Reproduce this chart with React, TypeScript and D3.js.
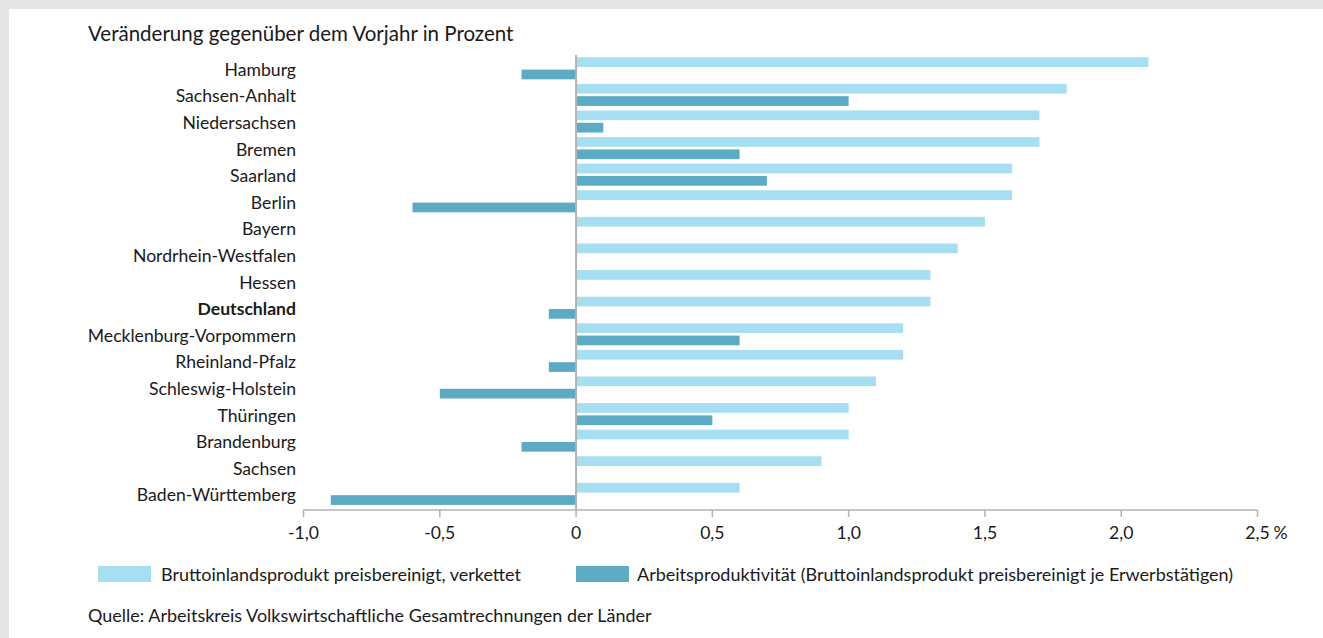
import React from "react";
import * as d3 from "d3";

const regions = [
  "Hamburg",
  "Sachsen-Anhalt",
  "Niedersachsen",
  "Bremen",
  "Saarland",
  "Berlin",
  "Bayern",
  "Nordrhein-Westfalen",
  "Hessen",
  "Deutschland",
  "Mecklenburg-Vorpommern",
  "Rheinland-Pfalz",
  "Schleswig-Holstein",
  "Thüringen",
  "Brandenburg",
  "Sachsen",
  "Baden-Württemberg",
];

const bip = [2.1, 1.8, 1.7, 1.7, 1.6, 1.6, 1.5, 1.4, 1.3, 1.3, 1.2, 1.2, 1.1, 1.0, 1.0, 0.9, 0.6];
const produktivitaet = [-0.2, 1.0, 0.1, 0.6, 0.7, -0.6, 0, 0, 0, -0.1, 0.6, -0.1, -0.5, 0.5, -0.2, 0, -0.9];

const seriesNames = [
  "Bruttoinlandsprodukt preisbereinigt, verkettet",
  "Arbeitsproduktivität (Bruttoinlandsprodukt preisbereinigt je Erwerbstätigen)",
];
const seriesKeys = ["bip", "prod"];
const colors = ["#a6dff1", "#5cabc5"];

const xTicks = [-1, -0.5, 0, 0.5, 1, 1.5, 2, 2.5];
const xTickLabels = ["-1,0", "-0,5", "0", "0,5", "1,0", "1,5", "2,0", "2,5"];

const title = "Veränderung gegenüber dem Vorjahr in Prozent";
const source = "Quelle: Arbeitskreis Volkswirtschaftliche Gesamtrechnungen der Länder";
const boldRegion = "Deutschland";

const W = 1323;
const H = 638;
const FONT = "Lato, 'Open Sans', sans-serif";
const TXT = "#1a1a1a";

export default function App() {
  const x = d3.scaleLinear().domain([-1, 2.5]).range([303.5, 1257.5]);
  const y = d3.scaleBand<string>().domain(regions).range([55, 507.2]);
  const sub = d3
    .scaleBand<string>()
    .domain(seriesKeys)
    .range([0, y.bandwidth()])
    .paddingInner(0.21)
    .paddingOuter(0.186);
  const axisY = 510;
  const values = [bip, produktivitaet];

  return (
    <div style={{ position: "fixed", left: 0, top: 0 }}>
      <svg width={W} height={H} style={{ display: "block" }} fontFamily={FONT}>
        <rect x={0} y={0} width={W} height={H} fill="#e5e5e5" />
        <rect x={9} y={9} width={W - 9} height={H - 9} fill="#ffffff" />
        <text x={88} y={41} fontSize={20.5} fill={TXT}>
          {title}
        </text>

        {regions.map((r, i) => (
          <g key={r}>
            {values.map((vals, s) => {
              const v = vals[i];
              if (v === 0) return null;
              return (
                <rect
                  key={s}
                  x={x(Math.min(0, v))}
                  y={(y(r) as number) + (sub(seriesKeys[s]) as number)}
                  width={Math.abs(x(v) - x(0))}
                  height={sub.bandwidth()}
                  fill={colors[s]}
                />
              );
            })}
            <text
              x={296}
              y={(y(r) as number) + y.bandwidth() / 2 + 7.5}
              textAnchor="end"
              fontSize={17.6}
              fontWeight={r === boldRegion ? 700 : 400}
              fill={TXT}
            >
              {r}
            </text>
          </g>
        ))}

        <line x1={x(0)} x2={x(0)} y1={55} y2={axisY} stroke="#b3b3b3" strokeWidth={2} />
        <line x1={x(-1)} x2={x(2.5)} y1={axisY} y2={axisY} stroke="#b3b3b3" strokeWidth={1.5} />
        {xTicks.map((t, i) => (
          <g key={t}>
            <line x1={x(t)} x2={x(t)} y1={axisY} y2={axisY + 7} stroke="#b3b3b3" strokeWidth={1.5} />
            <text x={x(t)} y={539} textAnchor="middle" fontSize={17.6} fill={TXT}>
              {xTickLabels[i]}
            </text>
          </g>
        ))}
        <text x={x(2.5) + 16} y={539} fontSize={17.6} fill={TXT}>
          %
        </text>

        <rect x={98} y={566} width={53} height={16} fill={colors[0]} />
        <text x={161} y={581} fontSize={18} fill={TXT}>
          {seriesNames[0]}
        </text>
        <rect x={576} y={566} width={53} height={16} fill={colors[1]} />
        <text x={637} y={581} fontSize={18} fill={TXT}>
          {seriesNames[1]}
        </text>

        <text x={88} y={622} fontSize={18} fill={TXT}>
          {source}
        </text>
      </svg>
    </div>
  );
}
